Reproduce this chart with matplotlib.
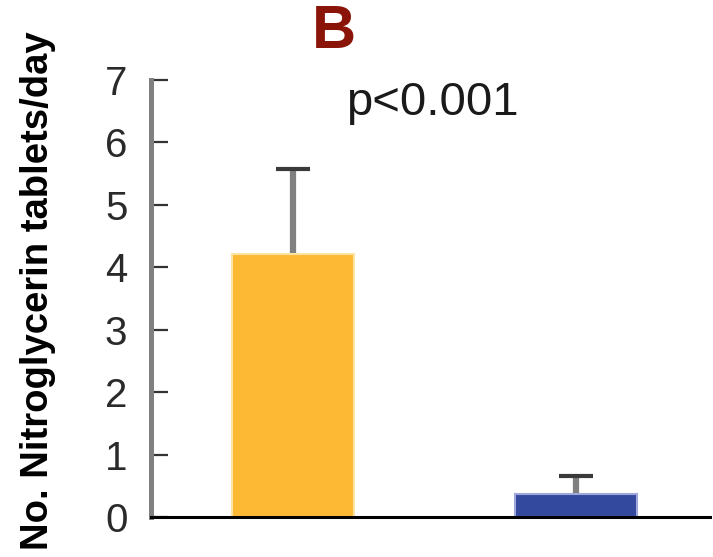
import matplotlib
matplotlib.use("Agg")
from matplotlib import pyplot as plt

# data
groups = ["Group 1", "Group 2"]
means = [4.21, 0.37]
errors = [1.36, 0.29]
bar_colors = ["#FDB933", "#33499E"]
edge_colors = ["#FFE3A6", "#9FA8D8"]
y_ticks = [0, 1, 2, 3, 4, 5, 6, 7]

plt.rcParams['font.family'] = ['Liberation Sans', 'DejaVu Sans']

fig = plt.figure(figsize=(7.13, 5.57), dpi=100)
ax = fig.add_axes([0.2118, 0.0718, 0.784, 0.7846])

x = list(range(len(groups)))
ax.bar(x, means, width=0.43, color=bar_colors, edgecolor=edge_colors, linewidth=1.5, zorder=2)

# error bars (upper only)
for xi, m, e in zip(x, means, errors):
	_, caps, bars = ax.errorbar(xi, m, yerr=[[0], [e]], fmt='none', ecolor='#808080',
	                            elinewidth=4.5, capsize=12, capthick=3, zorder=1)
	caps[0].set_visible(False)
	for c in caps:
		c.set_markeredgecolor('#3a3a3a')

ax.set_xlim(-0.502, 1.473)
ax.set_ylim(0, 7)
ax.set_yticks(y_ticks)
ax.set_xticks([])

for s in ['top', 'right']:
	ax.spines[s].set_visible(False)
ax.spines['left'].set_color('#808080')
ax.spines['left'].set_linewidth(3.6)
ax.spines['bottom'].set_color('black')
ax.spines['bottom'].set_linewidth(2.2)
ax.spines['bottom'].set_zorder(3)

ax.tick_params(axis='y', direction='in', length=12, width=1.6, color='#333333',
               pad=17, labelsize=29, labelcolor='#2a2a2a')

fig.text(38 / 713, 1 - 291 / 557, "No. Nitroglycerin tablets/day", rotation=90,
         ha='center', va='center', fontsize=27.5, fontweight='bold')
fig.text(334 / 713, 1 - 33 / 557, "B", ha='center', va='center', fontsize=44,
         fontweight='bold', color='#8B1408')
fig.text(432 / 713, 1 - 115 / 557, "p<0.001", ha='center', va='baseline', fontsize=34,
         color='#1a1a1a')

fig.savefig("out.png", dpi=100)
